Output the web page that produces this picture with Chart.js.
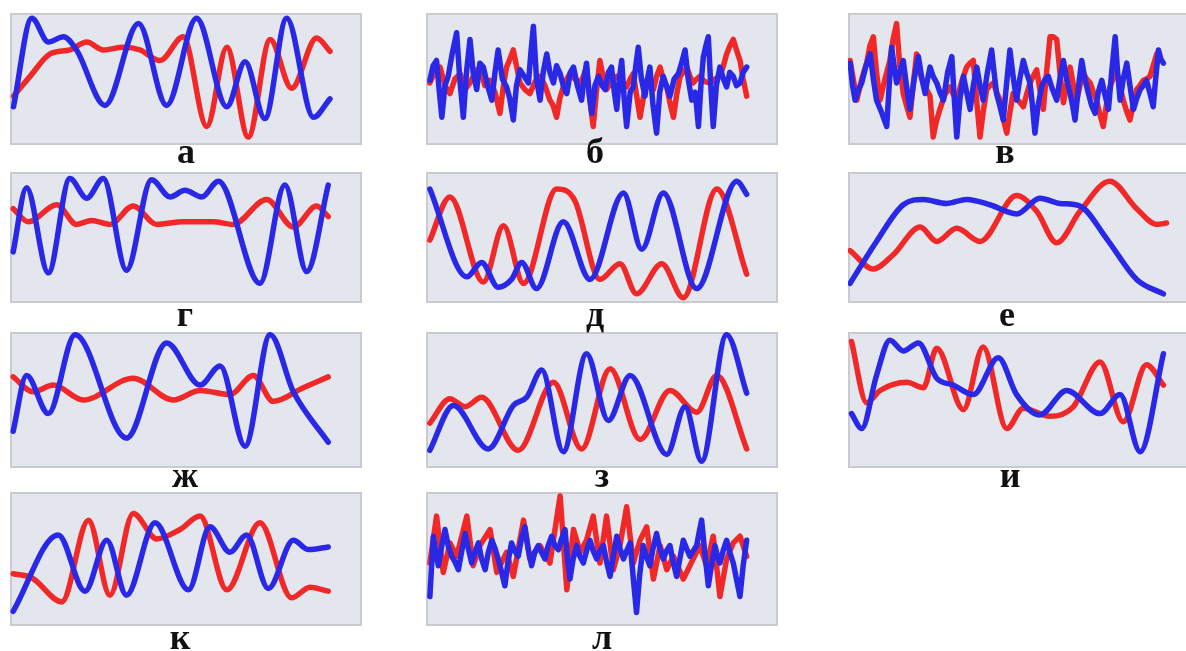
<!DOCTYPE html>
<html lang="ru">
<head>
  <meta charset="UTF-8" />
  <title>Signals</title>
  <script src="https://cdn.jsdelivr.net/npm/chart.js"></script>
  <style>
    html, body {
      margin: 0;
      padding: 0;
      background: #ffffff;
      overflow: hidden;
      width: 1186px;
      height: 651px;
    }
    .panel {
      position: absolute;
    }
    .lbl {
      position: absolute;
      width: 60px;
      text-align: center;
      font-family: 'Liberation Serif', 'DejaVu Serif', serif;
      font-weight: bold;
      font-size: 36px;
      line-height: 36px;
      color: #111;
      z-index: 5;
    }
  </style>
</head>
<body>

<script>
  // panel captions
  const labels = ['а', 'б', 'в', 'г', 'д', 'е', 'ж', 'з', 'и', 'к', 'л'];

  // each series: [x, y] pairs, x and y on a 0..100 scale
  const aBlue = [[1,29],[6.2,96],[10.9,78],[15.2,82],[18.9,72],[27,30],[36.5,92],[44.5,30],[53,96],[61.6,29],[66.8,63],[72.4,20],[78.6,96],[86.2,21],[90.9,35]];
  const aRed  = [[1,37],[5.7,52],[11.4,69],[17,72],[21.8,78],[26.5,72],[32.2,74],[36.9,72],[42.6,64],[49.2,82],[55.9,14],[61.6,74],[67.7,6],[73.9,80],[80,43],[87.1,81],[90.9,71]];

  const bBlue = [[1.1,49],[2,60],[3,64],[3.8,40],[4.5,21],[5.4,45],[6.3,52],[7.5,70],[8.7,85],[9.6,50],[10.6,21],[11.5,55],[12.5,80],[13.4,55],[14.4,42],[15.3,62],[16.3,59],[17.5,45],[18.7,34],[19.6,55],[20.5,72],[21.7,50],[22.9,44],[23.8,35],[24.8,19],[25.7,45],[26.7,57],[27.9,52],[29.1,47],[29.8,70],[30.5,90],[31.4,50],[32.4,34],[33.3,55],[34.3,69],[35.2,55],[36.2,47],[37.1,60],[38.1,54],[39,45],[40,39],[41,55],[41.9,59],[43,45],[44.2,34],[44.9,50],[45.6,62],[46.3,40],[47.1,24],[48,45],[49,52],[50,45],[50.9,42],[51.8,55],[52.7,59],[53.5,40],[54.2,27],[54.9,50],[55.6,64],[56.3,35],[57,14],[58,40],[58.9,44],[59.6,60],[60.3,74],[61.2,50],[62.2,37],[62.9,50],[63.6,59],[64.5,30],[65.5,9],[66.4,40],[67.4,52],[68.3,45],[69.3,37],[70.5,50],[71.7,54],[72.6,62],[73.6,72],[74.5,50],[75.5,34],[76.5,40],[77.4,14],[78.1,45],[78.8,67],[79.5,75],[80.2,82],[80.9,45],[81.6,14],[82.5,45],[83.5,59],[84.5,50],[85.4,44],[86.3,55],[87.3,52],[88.2,45],[89.2,47],[90.1,55],[91.1,59]];
  const bRed  = [[1.1,47],[2.5,55],[4,59],[5.4,45],[6.8,39],[8.2,50],[9.7,54],[11.1,42],[12.5,47],[13.9,55],[15.3,59],[16.7,45],[18.2,49],[19.6,40],[21,24],[22,45],[22.9,59],[23.8,65],[24.8,72],[25.7,60],[26.7,47],[28.1,42],[29.5,39],[31,48],[32.4,52],[33.8,45],[35.2,34],[36.1,30],[37.1,21],[38,35],[39,44],[40,50],[40.9,54],[42.3,50],[43.8,47],[44.7,52],[45.6,59],[46.5,35],[47.5,14],[48.4,40],[49.4,64],[50.3,52],[51.3,42],[52.7,48],[54.2,52],[55.6,48],[57,44],[58,50],[58.9,54],[59.8,38],[60.8,21],[61.7,35],[62.7,49],[63.6,45],[64.6,42],[65.5,52],[66.5,59],[67.4,50],[68.4,44],[69.3,32],[70.3,21],[71.2,38],[72.2,52],[73.1,55],[74.1,59],[75,52],[75.9,47],[76.9,50],[77.8,52],[79.2,48],[80.7,47],[82.1,50],[83.5,52],[84.5,60],[85.4,69],[86.3,75],[87.3,80],[88.2,72],[89.2,64],[90.1,50],[91.1,37]];

  const vBlue = [[0.6,62],[1.3,45],[2,34],[3,42],[3.9,47],[5.1,60],[6.3,69],[7.2,50],[8.1,34],[9.5,25],[11,14],[11.7,45],[12.4,74],[13.1,60],[13.8,47],[14.7,55],[15.7,64],[16.6,45],[17.6,27],[18.8,50],[20,67],[21,50],[21.9,39],[22.6,50],[23.3,59],[24.2,52],[25.2,47],[26.1,40],[27.1,34],[28.3,55],[29.5,67],[30.2,35],[30.9,6],[31.8,35],[32.8,52],[33.7,40],[34.7,27],[35.6,45],[36.6,59],[37.5,45],[38.4,34],[39.6,55],[40.8,72],[41.5,55],[42.2,39],[43.1,30],[44.1,19],[45,45],[46,72],[47,50],[47.9,34],[48.8,50],[49.8,64],[50.7,55],[51.7,47],[52.4,30],[53.1,9],[54,30],[55,44],[56,50],[56.9,52],[58.1,42],[59.3,34],[60.2,50],[61.2,64],[62.1,50],[63.1,39],[63.8,30],[64.5,19],[65.5,45],[66.4,64],[67.3,50],[68.3,39],[69.2,30],[70.2,24],[71.1,40],[72.1,49],[73,38],[74,27],[74.9,55],[75.9,82],[76.6,55],[77.3,34],[78.2,50],[79.2,62],[80.1,45],[81.1,27],[82,35],[83,42],[83.9,45],[84.8,49],[85.7,40],[86.7,29],[87.4,50],[88.2,72],[88.9,65],[89.6,62]];
  const vRed  = [[0.6,64],[1.5,50],[2.5,34],[3.9,50],[5.3,62],[6.2,75],[7.2,82],[8.1,55],[9.1,34],[10.5,50],[11.9,64],[12.8,80],[13.8,92],[14.7,60],[15.7,39],[16.6,30],[17.6,21],[18.5,45],[19.5,69],[20.4,55],[21.4,47],[22.3,42],[23.3,37],[24.2,6],[25.1,18],[26.1,27],[27.5,38],[29,44],[30,38],[30.9,34],[32.3,48],[33.7,59],[34.6,62],[35.6,64],[36.5,35],[37.5,6],[38.4,25],[39.4,42],[40.3,45],[41.3,47],[42.2,40],[43.2,34],[44.1,20],[45.1,9],[46,25],[46.9,39],[48.3,34],[49.8,29],[50.7,38],[51.7,47],[52.6,52],[53.6,57],[54.5,42],[55.5,27],[56.4,55],[57.4,82],[58.3,82],[59.3,80],[60.2,55],[61.2,32],[62.1,45],[63.1,59],[64,46],[65,34],[65.9,45],[66.9,54],[67.8,50],[68.8,47],[69.7,40],[70.6,34],[71.5,24],[72.5,14],[73.4,30],[74.4,44],[75.3,50],[76.3,57],[77.2,45],[78.2,34],[79.1,26],[80.1,19],[81,30],[82,42],[82.9,45],[83.9,49],[84.8,50],[85.8,52],[86.7,60],[87.7,69]];

  const gBlue = [[0.9,39],[4.7,88],[10.9,23],[17,95],[21.8,80],[26.5,95],[33.1,25],[40.2,94],[45.5,81],[49.7,86],[54.5,81],[59.2,93],[71,15],[78.1,90],[84.3,24],[90.4,90]];
  const gRed  = [[0.9,72],[5.2,62],[13.3,75],[18.9,60],[23.2,63],[28.4,60],[35,74],[41.7,60],[49.2,62],[57.8,62],[63.4,60],[72.9,79],[80.5,58],[87.1,74],[90.4,66]];

  const dBlue = [[1.1,87],[11.6,20],[15.8,31],[20.5,12],[24.3,18],[27.2,31],[31.4,11],[39,62],[46.6,18],[56.1,84],[61.3,41],[67.4,84],[76.9,11],[88.3,93],[91.1,83]];
  const dRed  = [[1.1,48],[6.8,81],[16.3,16],[22,59],[27.7,15],[37.1,87],[42.3,78],[49.4,18],[55.1,30],[59.8,7],[67,30],[73.1,4],[82.6,87],[91.1,22]];

  const eBlue = [[0.6,15],[8.1,47],[15.7,75],[21.4,79],[28,76],[33.7,79],[40.3,75],[47.9,68],[54.5,80],[60.2,76],[65.9,74],[73.5,49],[82,18],[89.6,7]];
  const eRed  = [[0.6,40],[7.2,26],[12.9,37],[20.5,58],[25.2,47],[30.9,57],[37.5,47],[47.9,82],[53.6,70],[59.3,46],[65.9,70],[74.4,93],[82,72],[87.7,60],[90.5,61]];

  const zhBlue = [[0.9,27],[4.7,68],[10.9,40],[18.5,98],[33.1,22],[44.5,92],[54,61],[59.7,75],[66.8,16],[73.9,98],[80.5,56],[90.4,19]];
  const zhRed  = [[0.9,67],[6.6,56],[12.3,61],[20.8,50],[35,66],[46.4,50],[54,57],[62.5,54],[69.1,68],[74.8,49],[83.3,59],[90.4,67]];

  const zBlue = [[1.1,13],[7.8,46],[17.7,14],[24.8,46],[28.6,52],[32.9,72],[39,12],[45.6,84],[51.8,35],[58,68],[68.4,10],[73.6,45],[78.3,5],[85.4,98],[91.1,55]];
  const zRed  = [[1.1,33],[6.8,51],[11.1,45],[15.8,52],[26.2,13],[36.2,63],[44.2,14],[52.3,73],[60.8,21],[69.3,57],[76.9,41],[82.6,68],[91.1,14]];

  const iBlue = [[1,40],[3.9,29],[8.1,68],[11.9,94],[15.7,86],[20,92],[25.2,66],[29.9,61],[35.6,54],[42.7,81],[47.9,54],[54.5,39],[62.1,57],[71.6,40],[77.3,54],[83,12],[89.6,84]];
  const iRed  = [[1,93],[5.3,48],[9.1,57],[16.7,63],[21.4,59],[25.2,88],[32.8,43],[38.4,89],[45.1,29],[49.8,44],[57.4,38],[64,45],[71.6,78],[78.2,34],[84.8,76],[89.6,61]];

  const kBlue = [[0.9,11],[13.7,68],[21.3,26],[27.5,64],[33.1,23],[41.2,77],[50.7,27],[56.8,74],[62.5,55],[67.2,68],[73.4,28],[80.5,64],[84.8,57],[90.4,59]];
  const kRed  = [[0.9,39],[6.2,36],[14.7,18],[22.3,79],[28.4,23],[35,84],[41.7,65],[48.3,72],[54,82],[61.6,27],[71,77],[80,21],[85.2,29],[90.4,26]];

  const lBlue = [[1.1,22],[1.6,45],[2.1,67],[2.8,55],[3.5,45],[4.5,60],[5.4,72],[6.3,60],[7.3,52],[8.2,48],[9.2,42],[10.1,55],[11.1,69],[12,58],[13,47],[13.9,55],[14.9,62],[15.8,50],[16.8,42],[17.7,55],[18.7,64],[19.6,58],[20.5,50],[21.5,40],[22.4,30],[23.3,48],[24.3,62],[25.2,56],[26.2,52],[27.1,65],[28.1,74],[29,58],[30,45],[30.9,55],[31.9,60],[32.8,55],[33.8,50],[34.7,60],[35.7,67],[36.6,60],[37.6,57],[38.5,65],[39.5,72],[40.2,50],[40.9,35],[41.8,50],[42.8,60],[43.7,52],[44.7,47],[45.6,56],[46.6,64],[47.5,56],[48.5,50],[49.4,56],[50.4,60],[51.3,48],[52.3,37],[53.2,52],[54.2,67],[55.1,58],[56.1,50],[57,56],[58,62],[58.9,35],[59.8,10],[60.7,38],[61.7,60],[62.6,52],[63.6,45],[64.5,58],[65.5,69],[66.4,58],[67.4,50],[68.3,56],[69.3,60],[70.2,48],[71.2,37],[72.1,50],[73.1,64],[74,58],[75,52],[75.9,56],[76.9,60],[77.6,70],[78.3,79],[79.2,55],[80.2,30],[81.1,45],[82.1,60],[82.8,52],[83.5,47],[84.4,56],[85.4,64],[86.3,55],[87.3,47],[88.2,35],[89.2,22],[90.1,45],[91.1,64]];
  const lRed  = [[1.1,47],[3,82],[4.9,40],[6.8,62],[8.7,52],[11.6,82],[13.4,45],[15.3,60],[18.2,72],[20.1,40],[22.9,55],[24.8,37],[27.7,79],[29.5,50],[32.4,60],[35.2,47],[38.1,97],[40,27],[41.9,72],[43.8,55],[45.6,64],[47.5,82],[49.4,47],[51.3,82],[53.2,42],[55.1,60],[57,89],[58.9,47],[60.8,64],[62.7,74],[64.6,35],[66.5,60],[68.4,42],[70.3,52],[73.1,35],[75.9,50],[77.8,60],[79.7,45],[81.6,67],[83.5,22],[85.4,50],[87.3,62],[89.2,67],[91.1,52]];

  const series = [
    [aBlue, aRed], [bBlue, bRed], [vBlue, vRed],
    [gBlue, gRed], [dBlue, dRed], [eBlue, eRed],
    [zhBlue, zhRed], [zBlue, zRed], [iBlue, iRed],
    [kBlue, kRed], [lBlue, lRed]
  ];
  const noisy = [false, true, true, false, false, false, false, false, false, false, true];

  // layout of the grid
  const colLeft = [10, 426, 848];
  const rowTop = [13, 172, 332, 492];
  const rowH = [132, 131, 136, 134];
  const boxW = 352;
  const labelX = [[186, 595, 1005], [185, 595, 1007], [185, 602, 1010], [180, 602]];
  const labelY = [155, 318, 479, 641];

  // grey plot box behind the lines
  const boxBg = {
    id: 'boxBg',
    beforeDraw(chart) {
      const { ctx, chartArea: a } = chart;
      ctx.save();
      ctx.fillStyle = '#e4e6ee';
      ctx.fillRect(a.left, a.top, a.right - a.left, a.bottom - a.top);
      ctx.strokeStyle = '#cacbd0';
      ctx.lineWidth = 2;
      ctx.strokeRect(a.left + 1, a.top + 1, a.right - a.left - 2, a.bottom - a.top - 2);
      ctx.restore();
    }
  };

  const toXY = pts => pts.map(p => ({ x: p[0], y: p[1] }));

  series.forEach((s, i) => {
    const r = Math.floor(i / 3), c = i % 3;
    const cv = document.createElement('canvas');
    cv.className = 'panel';
    cv.width = boxW;
    cv.height = rowH[r];
    cv.style.left = colLeft[c] + 'px';
    cv.style.top = rowTop[r] + 'px';
    document.body.appendChild(cv);

    const lineStyle = {
      pointRadius: 0,
      borderWidth: 5.5,
      tension: 0,
      cubicInterpolationMode: noisy[i] ? 'default' : 'monotone',
      borderJoinStyle: 'round',
      borderCapStyle: 'round',
      fill: false
    };

    new Chart(cv, {
      type: 'line',
      data: {
        datasets: [
          Object.assign({ label: 'blue', data: toXY(s[0]), borderColor: '#2828e6', order: 0 }, lineStyle),
          Object.assign({ label: 'red', data: toXY(s[1]), borderColor: '#f02828', order: 1 }, lineStyle)
        ]
      },
      options: {
        responsive: false,
        animation: false,
        devicePixelRatio: 1,
        layout: { padding: 0 },
        scales: {
          x: { type: 'linear', min: 0, max: 100, display: false },
          y: { min: 0, max: 100, display: false }
        },
        plugins: {
          legend: { display: false },
          tooltip: { enabled: false }
        }
      },
      plugins: [boxBg]
    });

    const lb = document.createElement('div');
    lb.className = 'lbl';
    lb.textContent = labels[i];
    lb.style.left = (labelX[r][c] - 30) + 'px';
    lb.style.top = (labelY[r] - 22) + 'px';
    document.body.appendChild(lb);
  });
</script>

</body>
</html>
